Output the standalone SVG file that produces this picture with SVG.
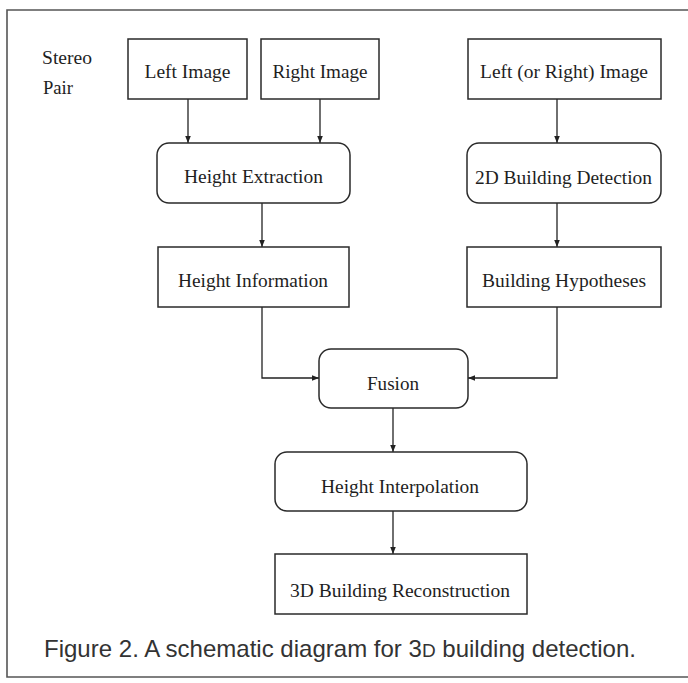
<svg xmlns="http://www.w3.org/2000/svg" width="688" height="683" viewBox="0 0 688 683">
<defs>
<marker id="ah" markerWidth="8" markerHeight="8" refX="7" refY="4" orient="auto" markerUnits="userSpaceOnUse">
<path d="M0,1.2 L7,4 L0,6.8 Z" fill="#222"/>
</marker>
<style>
.box{fill:#fff;stroke:#2a2a2a;stroke-width:1.5}
.lbl{font-family:"Liberation Serif","Times New Roman",serif;font-size:19.5px;fill:#1e1e1e;text-anchor:middle}
.side{font-family:"Liberation Serif","Times New Roman",serif;font-size:18px;fill:#1e1e1e}
.edge{fill:none;stroke:#222;stroke-width:1.3;marker-end:url(#ah)}
.frame{fill:none;stroke:#555;stroke-width:1.6}
.cap{font-family:"Liberation Sans",Arial,sans-serif;font-size:24px;fill:#333}
</style>
</defs>
<rect width="688" height="683" fill="#fff"/>
<path class="frame" d="M688,10 L7,10 L7,677 L688,677"/>
<g id="stereo-label">
<text class="side" x="42" y="64" textLength="50" lengthAdjust="spacingAndGlyphs">Stereo</text>
<text class="side" x="43" y="94" textLength="30" lengthAdjust="spacingAndGlyphs">Pair</text>
</g>
<g id="connectors">
<line class="edge" x1="188" y1="99" x2="188" y2="143"/>
<line class="edge" x1="320" y1="99" x2="320" y2="143"/>
<line class="edge" x1="557" y1="99" x2="557" y2="143"/>
<line class="edge" x1="262" y1="203" x2="262" y2="247"/>
<line class="edge" x1="557" y1="203" x2="557" y2="247"/>
<path class="edge" d="M262,307 L262,378 L319,378"/>
<path class="edge" d="M557,307 L557,378 L468,378"/>
<line class="edge" x1="393" y1="408" x2="393" y2="452"/>
<line class="edge" x1="393" y1="511" x2="393" y2="554"/>
</g>
<g id="left-image">
<rect class="box" x="128" y="39" width="119" height="60"/>
<text class="lbl" x="187.5" y="78" textLength="86" lengthAdjust="spacingAndGlyphs">Left Image</text>
</g>
<g id="right-image">
<rect class="box" x="261" y="39" width="118" height="60"/>
<text class="lbl" x="320" y="78" textLength="95" lengthAdjust="spacingAndGlyphs">Right Image</text>
</g>
<g id="left-or-right-image">
<rect class="box" x="468" y="39" width="193" height="60"/>
<text class="lbl" x="564" y="78" textLength="168" lengthAdjust="spacingAndGlyphs">Left (or Right) Image</text>
</g>
<g id="height-extraction">
<rect class="box" x="157" y="143" width="193" height="60" rx="12"/>
<text class="lbl" x="253.5" y="183" textLength="139" lengthAdjust="spacingAndGlyphs">Height Extraction</text>
</g>
<g id="building-detection-2d">
<rect class="box" x="467" y="143" width="194" height="60" rx="12"/>
<text class="lbl" x="563.5" y="184" textLength="177" lengthAdjust="spacingAndGlyphs">2D Building Detection</text>
</g>
<g id="height-information">
<rect class="box" x="158" y="247" width="191" height="60"/>
<text class="lbl" x="253" y="287" textLength="150" lengthAdjust="spacingAndGlyphs">Height Information</text>
</g>
<g id="building-hypotheses">
<rect class="box" x="467" y="247" width="194" height="60"/>
<text class="lbl" x="564" y="287" textLength="164" lengthAdjust="spacingAndGlyphs">Building Hypotheses</text>
</g>
<g id="fusion">
<rect class="box" x="319" y="349" width="149" height="59" rx="12"/>
<text class="lbl" x="393" y="390" textLength="52" lengthAdjust="spacingAndGlyphs">Fusion</text>
</g>
<g id="height-interpolation">
<rect class="box" x="275" y="452" width="252" height="59" rx="12"/>
<text class="lbl" x="400" y="493" textLength="158" lengthAdjust="spacingAndGlyphs">Height Interpolation</text>
</g>
<g id="building-reconstruction-3d">
<rect class="box" x="275" y="554" width="252" height="60"/>
<text class="lbl" x="400" y="597" textLength="220" lengthAdjust="spacingAndGlyphs">3D Building Reconstruction</text>
</g>
<text class="cap" x="44" y="657" textLength="592" lengthAdjust="spacingAndGlyphs">Figure 2. A schematic diagram for 3<tspan font-size="19">D</tspan> building detection.</text>
</svg>
